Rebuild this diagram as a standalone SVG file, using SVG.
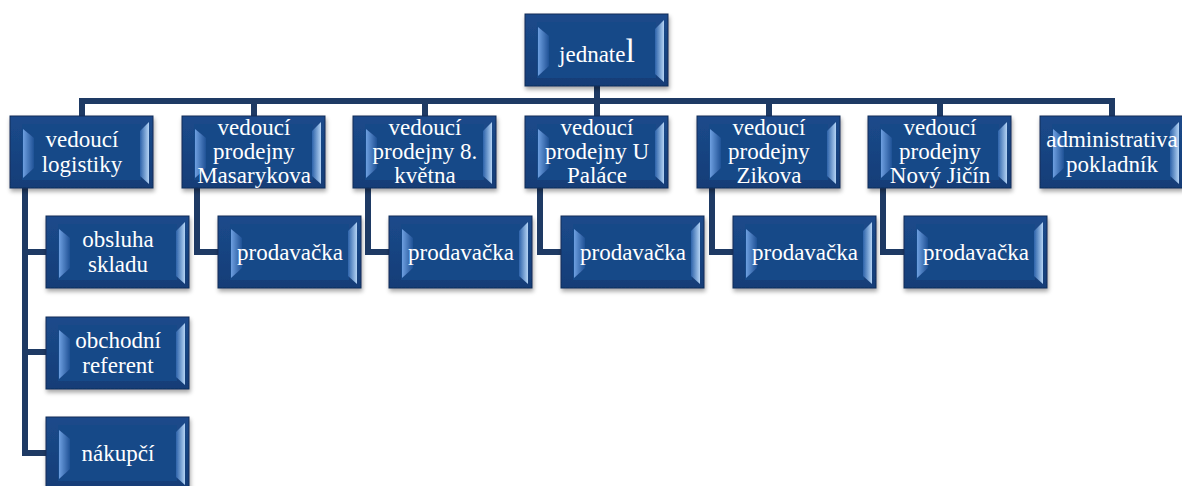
<svg xmlns="http://www.w3.org/2000/svg" xmlns:xlink="http://www.w3.org/1999/xlink" width="1182" height="486" viewBox="0 0 1182 486">
  <style>
    text { font-family: 'Liberation Serif', 'DejaVu Serif', serif; }
    .lbl { font-size: 23px; fill: #ffffff; text-anchor: middle; }
    .wire { fill: none; stroke: #1e3a64; stroke-width: 6; stroke-linejoin: miter; stroke-linecap: butt; }
  </style>
  <defs>
    <linearGradient id="bevelLeft" x1="0" y1="0" x2="1" y2="0">
      <stop offset="0" stop-color="#6e9fe0"/>
      <stop offset="1" stop-color="#1f5296"/>
    </linearGradient>
    <linearGradient id="bevelRight" x1="0" y1="0" x2="1" y2="0">
      <stop offset="0" stop-color="#2d63aa"/>
      <stop offset="1" stop-color="#b4d3f4"/>
    </linearGradient>
    <linearGradient id="boxFace" x1="0" y1="0" x2="0" y2="1">
      <stop offset="0" stop-color="#1b4a8b"/>
      <stop offset="1" stop-color="#153d77"/>
    </linearGradient>
    <filter id="shadow" x="-10%" y="-15%" width="125%" height="140%">
      <feDropShadow dx="1" dy="3" stdDeviation="2" flood-color="#000" flood-opacity="0.35"/>
    </filter>
    <!-- bevelled box, 143 x 72 -->
    <symbol id="bevelBox" viewBox="0 0 143 72" width="143" height="72" overflow="visible">
      <rect x="0" y="0" width="143" height="72" fill="url(#boxFace)" stroke="#0f2d58" stroke-width="1"/>
      <rect x="12" y="8" width="119" height="56" fill="#194888"/>
      <polygon points="13,13 24,22 24,52 13,62" fill="url(#bevelLeft)"/>
      <polygon points="130,15 139,6 139,68 130,60" fill="url(#bevelRight)"/>
    </symbol>
  </defs>

  <rect width="1182" height="486" fill="#ffffff"/>

  <!-- connectors -->
  <g id="connectors" class="wire">
    <path d="M597,86 V101"/>
    <path d="M82,117 V101 H1112 V117"/>
    <path d="M254,101 V117 M425,101 V117 M597,101 V117 M769,101 V117 M940,101 V117"/>
    <path d="M25,187 V453 H47 M25,252 H47 M25,352 H47"/>
    <path d="M197,187 V252 H219"/>
    <path d="M368,187 V252 H390"/>
    <path d="M540,187 V252 H562"/>
    <path d="M712,187 V252 H734"/>
    <path d="M883,187 V252 H905"/>
  </g>

  <!-- top -->
  <g id="jednatel">
    <use xlink:href="#bevelBox" x="525" y="14" filter="url(#shadow)"/>
    <text class="lbl" x="597" y="62" font-family="Liberation Serif, serif">jednate<tspan font-size="34">l</tspan></text>
  </g>

  <!-- second level -->
  <g id="vedouci-logistiky" font-family="Liberation Serif, serif">
    <use xlink:href="#bevelBox" x="10" y="116" filter="url(#shadow)"/>
    <text class="lbl" x="82" y="147">vedoucí</text>
    <text class="lbl" x="82" y="172">logistiky</text>
  </g>
  <g id="vedouci-masarykova" font-family="Liberation Serif, serif">
    <use xlink:href="#bevelBox" x="182" y="116" filter="url(#shadow)"/>
    <text class="lbl" x="254" y="135">vedoucí</text>
    <text class="lbl" x="254" y="159">prodejny</text>
    <text class="lbl" x="254" y="183">Masarykova</text>
  </g>
  <g id="vedouci-8-kvetna" font-family="Liberation Serif, serif">
    <use xlink:href="#bevelBox" x="353" y="116" filter="url(#shadow)"/>
    <text class="lbl" x="425" y="135">vedoucí</text>
    <text class="lbl" x="425" y="159">prodejny 8.</text>
    <text class="lbl" x="425" y="183">května</text>
  </g>
  <g id="vedouci-u-palace" font-family="Liberation Serif, serif">
    <use xlink:href="#bevelBox" x="525" y="116" filter="url(#shadow)"/>
    <text class="lbl" x="597" y="135">vedoucí</text>
    <text class="lbl" x="597" y="159">prodejny U</text>
    <text class="lbl" x="597" y="183">Paláce</text>
  </g>
  <g id="vedouci-zikova" font-family="Liberation Serif, serif">
    <use xlink:href="#bevelBox" x="697" y="116" filter="url(#shadow)"/>
    <text class="lbl" x="769" y="135">vedoucí</text>
    <text class="lbl" x="769" y="159">prodejny</text>
    <text class="lbl" x="769" y="183">Zikova</text>
  </g>
  <g id="vedouci-novy-jicin" font-family="Liberation Serif, serif">
    <use xlink:href="#bevelBox" x="868" y="116" filter="url(#shadow)"/>
    <text class="lbl" x="940" y="135">vedoucí</text>
    <text class="lbl" x="940" y="159">prodejny</text>
    <text class="lbl" x="940" y="183">Nový Jičín</text>
  </g>
  <g id="administrativa" font-family="Liberation Serif, serif">
    <use xlink:href="#bevelBox" x="1040" y="116" filter="url(#shadow)"/>
    <text class="lbl" x="1112" y="147">administrativa</text>
    <text class="lbl" x="1112" y="172">pokladník</text>
  </g>

  <!-- third level: logistics -->
  <g id="obsluha-skladu" font-family="Liberation Serif, serif">
    <use xlink:href="#bevelBox" x="46" y="216" filter="url(#shadow)"/>
    <text class="lbl" x="118" y="247">obsluha</text>
    <text class="lbl" x="118" y="272">skladu</text>
  </g>
  <g id="obchodni-referent" font-family="Liberation Serif, serif">
    <use xlink:href="#bevelBox" x="46" y="317" filter="url(#shadow)"/>
    <text class="lbl" x="118" y="348">obchodní</text>
    <text class="lbl" x="118" y="373">referent</text>
  </g>
  <g id="nakupci" font-family="Liberation Serif, serif">
    <use xlink:href="#bevelBox" x="46" y="417" filter="url(#shadow)"/>
    <text class="lbl" x="118" y="461">nákupčí</text>
  </g>

  <!-- third level: shop staff -->
  <g id="prodavacka-masarykova" font-family="Liberation Serif, serif">
    <use xlink:href="#bevelBox" x="218" y="216" filter="url(#shadow)"/>
    <text class="lbl" x="290" y="260">prodavačka</text>
  </g>
  <g id="prodavacka-8-kvetna" font-family="Liberation Serif, serif">
    <use xlink:href="#bevelBox" x="389" y="216" filter="url(#shadow)"/>
    <text class="lbl" x="461" y="260">prodavačka</text>
  </g>
  <g id="prodavacka-u-palace" font-family="Liberation Serif, serif">
    <use xlink:href="#bevelBox" x="561" y="216" filter="url(#shadow)"/>
    <text class="lbl" x="633" y="260">prodavačka</text>
  </g>
  <g id="prodavacka-zikova" font-family="Liberation Serif, serif">
    <use xlink:href="#bevelBox" x="733" y="216" filter="url(#shadow)"/>
    <text class="lbl" x="805" y="260">prodavačka</text>
  </g>
  <g id="prodavacka-novy-jicin" font-family="Liberation Serif, serif">
    <use xlink:href="#bevelBox" x="904" y="216" filter="url(#shadow)"/>
    <text class="lbl" x="976" y="260">prodavačka</text>
  </g>
</svg>
